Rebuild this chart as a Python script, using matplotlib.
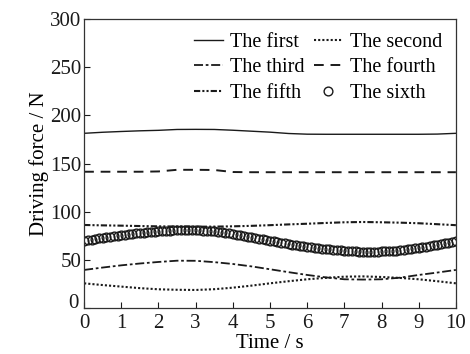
import matplotlib
matplotlib.use('Agg')
import matplotlib.pyplot as plt
import matplotlib.transforms as mtransforms
import numpy as np

# time axis for the line series (s)
t_line = [0, 0.5, 1, 1.5, 2, 2.5, 3, 3.5, 4, 4.5, 5, 5.5, 6, 6.5, 7, 7.5, 8, 8.5, 9, 9.5, 10]

first = [181.4, 182.5, 183.3, 184.0, 184.5, 185.4, 185.5, 185.4, 184.6, 183.6, 182.6, 181.2,
         180.5, 180.4, 180.4, 180.4, 180.4, 180.4, 180.4, 180.6, 181.4]
second = [25.6, 23.8, 22.2, 20.6, 19.4, 18.9, 18.7, 19.5, 21.1, 23.2, 25.6, 27.8,
          29.8, 31.3, 32.5, 32.8, 32.2, 31.2, 29.8, 27.8, 25.6]
third = [39.5, 42.0, 44.3, 46.2, 47.8, 49.1, 49.0, 47.6, 45.7, 43.2, 40.2, 37.2,
         34.3, 31.8, 29.8, 29.5, 29.8, 31.5, 34.3, 36.8, 39.5]
fourth = [141.5, 141.5, 141.5, 141.5, 141.8, 143.5, 143.5, 143.3, 141.2, 141.0, 141.0, 141.0,
          141.0, 141.0, 141.0, 141.0, 141.0, 141.0, 141.0, 141.0, 141.0]
fifth = [86.2, 85.8, 85.5, 85.1, 84.8, 84.6, 84.4, 84.5, 84.8, 85.3, 86.0, 86.8,
         87.5, 88.3, 89.0, 89.3, 89.0, 88.6, 88.0, 87.0, 86.0]

# sixth series, sampled every 0.1 s
t_sixth = [round(0.1 * i, 1) for i in range(101)]
sixth = [69.9, 70.5, 71.1, 71.7, 72.3, 72.9, 73.5, 74.1, 74.7, 75.2,
         75.7, 76.2, 76.7, 77.2, 77.6, 78.0, 78.3, 78.6, 78.9, 79.2,
         79.5, 79.8, 80.1, 80.4, 80.6, 80.8, 81.0, 81.0, 81.0, 80.9,
         80.8, 80.6, 80.4, 80.2, 79.9, 79.5, 79.0, 78.5, 78.0, 77.5,
         76.9, 76.3, 75.6, 74.9, 74.2, 73.5, 72.8, 72.0, 71.3, 70.6,
         69.9, 69.2, 68.5, 67.8, 67.1, 66.5, 65.9, 65.4, 64.8, 64.2,
         63.7, 63.2, 62.7, 62.2, 61.7, 61.3, 60.9, 60.5, 60.1, 59.8,
         59.5, 59.2, 59.0, 58.8, 58.6, 58.5, 58.5, 58.5, 58.5, 58.6,
         58.7, 58.8, 59.0, 59.2, 59.5, 59.9, 60.3, 60.8, 61.4, 62.0,
         62.6, 63.2, 63.8, 64.4, 65.1, 65.8, 66.5, 67.2, 68.0, 68.9,
         69.9]

x_ticks = list(range(0, 11))
y_ticks = [0, 50, 100, 150, 200, 250, 300]

plt.rcParams['font.family'] = ['Liberation Serif', 'DejaVu Serif']

fig = plt.figure(figsize=(4.7, 3.54), dpi=100)
ax = fig.add_axes([0.179, 0.130, 0.791, 0.816])

c = '#1a1a1a'
l1, = ax.plot(t_line, first, color=c, lw=1.0, label='The first')
l2, = ax.plot(t_line, second, color=c, lw=1.5, linestyle=(0, (1, 1)), label='The second')
l3, = ax.plot(t_line, third, color=c, lw=1.3, linestyle=(0, (5, 1.5, 1.5, 1.5)), label='The third')
l4, = ax.plot(t_line, fourth, color=c, lw=1.4, linestyle=(0, (5, 3.5)), label='The fourth')
l5, = ax.plot(t_line, fifth, color=c, lw=1.5, linestyle=(0, (3, 1, 1, 1, 1, 1)), label='The fifth')
l6, = ax.plot(t_sixth, sixth, linestyle='none', marker='o', markersize=6.3,
              markerfacecolor='none', markeredgecolor=c, markeredgewidth=1.0, label='The sixth')

ax.set_xlim(0, 10)
ax.set_ylim(0, 300)
ax.set_xticks(x_ticks)
ax.set_yticks(y_ticks)
ax.tick_params(direction='in', length=4, width=0.8, labelsize=15, colors='#1a1a1a')
ax.tick_params(axis='x', pad=4)
ax.tick_params(axis='y', pad=2)
for s in ax.spines.values():
    s.set_linewidth(0.9)
    s.set_color('#333333')

# lift the y "0" a bit so it clears the x "0"
fig.canvas.draw()
ylab0 = ax.get_yticklabels()[0]
ylab0.set_transform(ylab0.get_transform() +
                    mtransforms.ScaledTranslation(-2 / 72, 5 / 72, fig.dpi_scale_trans))

ax.set_xlabel('Time / s', fontsize=15, labelpad=1)
ax.set_ylabel('Driving force / N', fontsize=15, labelpad=1)

ax.legend(handles=[l1, l3, l5, l2, l4, l6], ncol=2, frameon=False, fontsize=14.5,
          loc='upper right', bbox_to_anchor=(1.0, 1.0), handlelength=1.4,
          handletextpad=0.35, columnspacing=0.5, labelspacing=0.3, borderaxespad=0.3)

fig.savefig('out.png', dpi=100)
